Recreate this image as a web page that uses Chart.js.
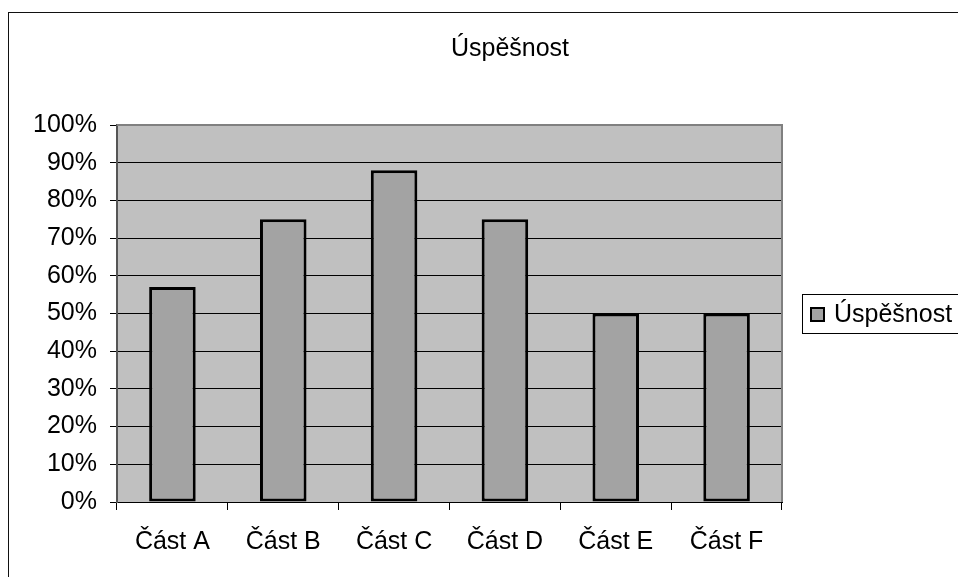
<!DOCTYPE html>
<html>
<head>
<meta charset="utf-8">
<script src="https://cdn.jsdelivr.net/npm/chart.js@4"></script>
<style>
  html, body { margin: 0; padding: 0; background: #fff; }
  #wrap { width: 958px; height: 577px; }
</style>
</head>
<body>
<div id="wrap"><canvas id="chart" width="958" height="577"></canvas></div>
<script>
const chartTitle = 'Úspěšnost';
const categories = ['Část A', 'Část B', 'Část C', 'Část D', 'Část E', 'Část F'];
const seriesLabel = 'Úspěšnost';
const seriesValues = [57, 75, 88, 75, 50, 50];
const yTicks = [0, 10, 20, 30, 40, 50, 60, 70, 80, 90, 100];

const FONT = 'Liberation Sans, Arial, sans-serif';

// plot area background + outer frame, title and legend drawn by hand
const frame = {
    id: 'frame',
    beforeDraw(chart) {
        const c = chart.ctx;
        const a = chart.chartArea;
        c.save();
        c.fillStyle = '#fff';
        c.fillRect(0, 0, chart.width, chart.height);
        c.strokeStyle = '#111';
        c.lineWidth = 1;
        c.strokeRect(8.5, 12.5, chart.width + 10, chart.height + 10);
        c.fillStyle = '#c0c0c0';
        c.fillRect(a.left, a.top, a.right - a.left, a.bottom - a.top);
        c.restore();
    },
    afterDraw(chart) {
        const c = chart.ctx;
        const a = chart.chartArea;
        c.save();
        // gray border of plot area (top, right)
        c.strokeStyle = '#808080';
        c.lineWidth = 2;
        c.beginPath();
        c.moveTo(a.left, a.top);
        c.lineTo(a.right, a.top);
        c.lineTo(a.right, a.bottom);
        c.stroke();

        // title
        c.fillStyle = '#000';
        c.font = '25px ' + FONT;
        c.textAlign = 'center';
        c.textBaseline = 'alphabetic';
        c.fillText(chartTitle, 510, 56);

        // legend
        c.strokeStyle = '#000';
        c.lineWidth = 1;
        c.strokeRect(802.5, 294.5, 160, 39);
        const ds = chart.data.datasets[0];
        c.fillStyle = ds.backgroundColor;
        c.fillRect(810, 307, 15, 15);
        c.lineWidth = 2;
        c.strokeRect(811, 308, 13, 13);
        c.fillStyle = '#000';
        c.textAlign = 'left';
        c.fillText(ds.label, 834, 322);
        c.restore();
    }
};

new Chart(document.getElementById('chart'), {
    type: 'bar',
    data: {
        labels: categories,
        datasets: [{
            label: seriesLabel,
            data: seriesValues,
            backgroundColor: '#a3a3a3',
            borderColor: '#000',
            borderWidth: 3,
            borderSkipped: false,
            barPercentage: 0.42,
            categoryPercentage: 1
        }]
    },
    options: {
        responsive: false,
        animation: false,
        devicePixelRatio: 1,
        layout: { padding: { left: 0, top: 125, right: 176, bottom: 0 } },
        plugins: {
            legend: { display: false },
            title: { display: false },
            tooltip: { enabled: false }
        },
        scales: {
            x: {
                offset: true,
                grid: {
                    offset: true,
                    drawOnChartArea: false,
                    color: '#000',
                    tickLength: 8
                },
                border: { color: '#000', width: 1 },
                ticks: {
                    color: '#000',
                    font: { family: FONT, size: 25 },
                    padding: 17,
                    maxRotation: 0
                },
                afterFit(scale) { scale.height = 75; }
            },
            y: {
                min: 0,
                max: 100,
                afterBuildTicks(scale) { scale.ticks = yTicks.map(v => ({ value: v })); },
                grid: { color: '#000', lineWidth: 1, tickLength: 7 },
                border: { color: '#555', width: 2 },
                ticks: {
                    color: '#000',
                    font: { family: FONT, size: 25 },
                    padding: 13,
                    callback: v => v + '%'
                },
                afterFit(scale) { scale.width = 117; }
            }
        }
    },
    plugins: [frame]
});
</script>
</body>
</html>
